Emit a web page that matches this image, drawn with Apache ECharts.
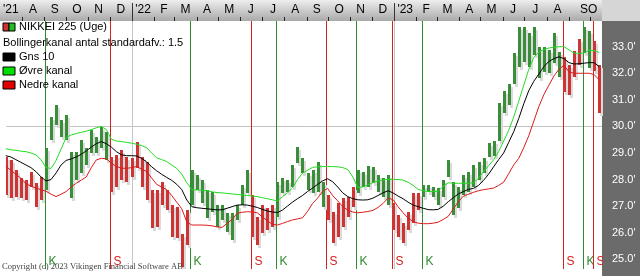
<!DOCTYPE html>
<html><head><meta charset="utf-8">
<script src="https://cdn.jsdelivr.net/npm/echarts@6/dist/echarts.min.js"></script>
<style>html,body{margin:0;padding:0;background:#fff}#c{width:640px;height:276px}</style>
</head><body><div id="c"></div>
<script>
// ---- data (values in thousands) ----
const firstBarDate = '2021-07-09';
const highs = [
28.86,28.74,28.36,28.06,27.99,28.30,27.86,28.11,29.18,30.37,
30.81,30.24,30.43,29.05,29.05,29.49,29.19,29.87,29.62,29.99,
29.80,28.86,28.93,29.11,28.86,28.81,29.43,28.86,28.67,27.61,
27.61,27.92,27.61,27.04,26.98,25.95,26.85,28.36,28.17,27.98,
27.61,27.55,27.04,27.04,26.74,26.74,27.04,27.80,28.36,27.42,
26.60,27.04,26.93,27.04,27.92,28.06,27.98,28.55,29.24,28.80,
28.24,28.36,28.67,27.92,27.42,26.79,27.11,27.30,27.36,27.73,
28.36,28.30,28.51,28.49,28.17,28.05,28.17,27.11,26.67,26.36,
26.79,27.48,27.48,27.80,27.80,27.73,27.67,27.98,28.74,27.92,
27.73,28.17,28.30,28.55,28.67,28.80,29.37,29.45,30.90,31.35,
31.60,32.75,33.75,33.74,33.52,33.74,33.00,33.00,32.88,33.50,
32.80,32.60,32.30,32.85,33.30,33.75,33.60,33.20,32.30];
const lows = [
27.42,27.31,27.36,27.31,27.23,27.73,26.98,27.23,27.61,29.49,
30.06,29.61,29.49,27.30,27.98,28.24,28.55,28.99,28.99,29.18,
28.74,27.55,27.73,27.98,27.92,28.11,28.43,27.73,27.23,26.17,
26.23,27.04,26.86,25.85,25.79,24.72,25.55,27.04,27.61,27.11,
26.55,26.79,26.23,26.48,26.04,25.73,26.48,27.04,27.50,25.85,
25.54,25.98,26.10,26.23,26.60,27.50,27.55,27.73,28.61,28.24,
27.61,27.48,27.55,26.98,26.48,25.60,25.85,26.23,26.60,26.98,
27.48,27.73,27.73,27.86,27.55,27.36,27.04,26.10,25.85,25.60,
26.10,26.36,26.86,27.36,27.55,27.36,27.04,27.36,28.11,26.67,
26.92,27.42,27.55,27.73,27.98,28.24,28.85,28.90,29.45,30.50,
30.80,31.60,32.25,32.43,32.24,32.69,31.82,32.05,32.00,32.37,
31.86,31.30,31.20,31.86,32.30,32.78,32.20,32.10,30.50];
const gns10 = [
28.90,28.85,28.75,28.65,28.55,28.45,28.30,28.10,27.95,28.00,
28.25,28.55,28.72,28.78,28.85,28.95,29.08,29.22,29.35,29.43,
29.35,29.22,29.05,28.93,28.90,28.90,28.89,28.80,28.67,28.48,
28.33,28.20,28.08,27.97,27.82,27.62,27.23,26.98,26.94,26.92,
26.90,26.88,26.86,26.86,26.92,26.98,27.04,27.05,27.04,27.00,
26.95,26.88,26.82,26.78,26.76,26.85,27.00,27.15,27.28,27.40,
27.55,27.68,27.82,27.95,28.03,27.92,27.72,27.50,27.36,27.28,
27.24,27.23,27.24,27.30,27.40,27.50,27.58,27.50,27.38,27.28,
27.15,27.04,26.98,26.92,26.87,26.86,26.88,27.00,27.17,27.32,
27.46,27.55,27.63,27.67,27.78,27.97,28.20,28.48,28.75,29.00,
29.40,29.80,30.30,30.85,31.35,31.70,31.97,32.25,32.45,32.55,
32.62,32.55,32.40,32.35,32.36,32.38,32.40,32.40,32.25];
const upperBand = [
29.16,29.12,29.10,29.07,29.05,29.00,28.93,28.75,28.45,28.42,
28.72,29.15,29.58,29.68,29.73,29.78,29.82,29.88,29.95,30.00,
29.88,29.52,29.45,29.43,29.40,29.37,29.33,29.28,29.20,29.00,
28.82,28.75,28.68,28.55,28.42,28.20,27.88,27.62,27.61,27.60,
27.58,27.54,27.51,27.50,27.48,27.46,27.44,27.42,27.40,27.38,
27.36,27.32,27.28,27.24,27.20,27.35,27.50,27.68,28.00,28.24,
28.35,28.46,28.48,28.49,28.49,28.49,28.48,28.45,28.38,28.10,
27.70,27.72,27.80,27.88,27.95,27.98,28.01,28.01,28.00,27.98,
27.90,27.78,27.63,27.58,27.55,27.55,27.56,27.75,27.88,27.86,
27.86,27.86,27.86,27.88,28.05,28.30,28.52,28.74,29.05,29.45,
29.85,30.35,30.95,31.55,32.15,32.60,32.80,32.90,32.95,32.98,
33.00,33.00,32.88,32.76,32.75,32.76,32.87,32.85,32.78];
const lowerBand = [
28.50,28.35,28.20,28.05,27.85,27.75,27.68,27.62,27.56,27.45,
27.36,27.45,27.55,27.72,27.86,27.98,28.10,28.45,28.74,28.80,
28.78,28.62,28.49,28.43,28.42,28.45,28.49,28.40,28.30,28.06,
27.82,27.72,27.62,27.40,27.15,26.90,26.40,26.29,26.29,26.29,
26.28,26.26,26.22,26.20,26.35,26.50,26.73,26.77,26.79,26.78,
26.75,26.60,26.45,26.32,26.29,26.35,26.42,26.48,26.52,26.56,
26.80,27.10,27.30,27.55,27.67,27.40,27.20,26.98,26.85,26.78,
26.75,26.77,26.80,26.84,26.95,27.10,27.30,27.25,26.98,26.75,
26.55,26.42,26.36,26.34,26.34,26.36,26.40,26.50,26.62,26.90,
27.17,27.38,27.45,27.52,27.58,27.62,27.65,27.68,27.78,27.90,
28.22,28.55,28.80,29.20,29.65,30.20,30.75,31.20,31.55,31.90,
32.15,32.30,32.05,32.00,32.00,32.00,32.00,31.95,31.75];
// signals: bar index where the signal starts, and its type (K = buy, S = sell)
const signalBars  = [8,  21,  37,  49,  54,  64,  70,  77,  83,  111, 115, 117];
const signalTypes = ['K','S','K','S','K','S','K','S','K','S','K','S'];
// axis
const monthLabels = ["'21",'A','S','O','N','D',"'22",'F','M','A','M','J','J','A','S','O','N','D',"'23",'F','M','A','M','J','J','A','S','O'];
const monthLabelDates = ['2021-07-16','2021-08-16','2021-09-15','2021-10-16','2021-11-15','2021-12-16',
 '2022-01-16','2022-02-14','2022-03-16','2022-04-15','2022-05-16','2022-06-15','2022-07-16','2022-08-16','2022-09-15','2022-10-16','2022-11-15','2022-12-16',
 '2023-01-16','2023-02-14','2023-03-16','2023-04-15','2023-05-16','2023-06-15','2023-07-16','2023-08-16','2023-09-22','2023-10-04'];
const monthTickDates = ['2021-08-01','2021-09-01','2021-10-01','2021-11-01','2021-12-01','2022-01-01','2022-02-01','2022-03-01','2022-04-01','2022-05-01','2022-06-01','2022-07-01','2022-08-01','2022-09-01','2022-10-01','2022-11-01','2022-12-01','2023-01-01','2023-02-01','2023-03-01','2023-04-01','2023-05-01','2023-06-01','2023-07-01','2023-08-01','2023-09-01','2023-10-01'];
const yearDates = ['2022-01-01','2023-01-01'];
const yTicks = [25,26,27,28,29,30,31,32,33];
const gridY = [30];
const legendTexts = ['NIKKEI 225 (Uge)','Bollingerkanal antal standardafv.: 1.5','Gns 10','Øvre kanal','Nedre kanal'];
const copyrightText = 'Copyright (c) 2023 Vikingen Financial Software AB';

// ---- helpers ----
const D0 = Date.UTC(2022,0,1);
const dayOf = s => { const p = s.split('-').map(Number); return (Date.UTC(p[0],p[1]-1,p[2]) - D0)/864e5; };
const firstDay = dayOf(firstBarDate);
const barDays = highs.map((_, i) => firstDay + 7*i);
let state = 0; // 0 = sell (red), 1 = buy (green)
const barData = highs.map((h, i) => {
  const si = signalBars.indexOf(i);
  if (si >= 0) state = signalTypes[si] === 'K' ? 1 : 0;
  return [barDays[i], h, lows[i], state];
});
const lineData = arr => arr.map((v, i) => [barDays[i], v]);
const signalData = signalBars.map((b, i) => [barDays[b] - 2, signalTypes[i] === 'K' ? 1 : 0]);
const labelDays = monthLabelDates.map(dayOf);
const labelMap = {}; labelDays.forEach((d, i) => labelMap[d] = monthLabels[i]);

const GREEN = '#3a8e3a', RED = '#cf3434', SHADOW = '#dadada';
const FONT = "'Liberation Sans', Arial, sans-serif";

const chart = echarts.init(document.getElementById('c'), null, {renderer: 'canvas'});
const XMIN = -175.3, XMAX = 653.9;

function renderBar(params, api) {
  const a = api.coord([api.value(0), api.value(1)]);
  const b = api.coord([api.value(0), api.value(2)]);
  const left = Math.round(a[0]) - 1;
  const top = Math.round(a[1]);
  const h = Math.max(1, Math.round(b[1]) - top);
  return {type: 'group', children: [
    {type: 'rect', shape: {x: left + 2, y: top + 3, width: 3, height: h}, style: {fill: SHADOW}},
    {type: 'rect', shape: {x: left, y: top, width: 3, height: h}, style: {fill: api.value(3) ? GREEN : RED}}
  ]};
}
function renderSignal(params, api) {
  const cs = params.coordSys;
  const x = Math.round(api.coord([api.value(0), 30])[0]) + 0.5;
  const buy = api.value(1) === 1;
  const col = buy ? '#2e8b2e' : '#d42020';
  return {type: 'group', children: [
    {type: 'line', shape: {x1: x, y1: cs.y, x2: x, y2: cs.y + cs.height}, style: {stroke: col, lineWidth: 1}},
    {type: 'text', x: x + 3, y: cs.y + cs.height - 1, style: {text: buy ? 'K' : 'S', fill: col, font: '12px ' + FONT, verticalAlign: 'bottom', align: 'left'}}
  ]};
}
function renderGrid(params, api) {
  const cs = params.coordSys;
  const kind = api.value(1);
  if (kind === 0) {
    const x = Math.round(api.coord([api.value(0), 30])[0]) + 0.5;
    return {type: 'line', shape: {x1: x, y1: cs.y, x2: x, y2: cs.y + cs.height}, style: {stroke: '#c4c4c4', lineWidth: 1}};
  }
  const y = Math.round(api.coord([0, api.value(0)])[1]) + 0.5;
  return {type: 'line', shape: {x1: cs.x, y1: y, x2: cs.x + cs.width, y2: y}, style: {stroke: '#c4c4c4', lineWidth: 1}};
}
const gridData = yearDates.map(d => [dayOf(d), 0]).concat(gridY.map(v => [v, 1]));

const legendIcon = (y, fills) => fills.map((f, i) => ({
  type: 'rect', shape: {x: 3 + i * (12 / fills.length), y: y - 4, width: 12 / fills.length, height: 8},
  style: {fill: f, stroke: '#000', lineWidth: 1}, z: 100
}));
const legendRows = [27, 43, 57, 71, 85];
const graphics = [
  {type: 'rect', shape: {x: 0, y: 0, width: 602, height: 21}, z: -10,
   style: {fill: new echarts.graphic.LinearGradient(0, 0, 0, 1, [{offset: 0, color: '#eeeeee'}, {offset: 1, color: '#a9a9a9'}])}},
  {type: 'rect', shape: {x: 602, y: 0, width: 38, height: 21}, z: -10, style: {fill: '#d6d6d6'}},
  {type: 'rect', shape: {x: 602, y: 21, width: 38, height: 255}, z: -10, style: {fill: '#6b6b6b'}},
  ...legendIcon(legendRows[0], [RED, '#1fc01f']),
  ...legendIcon(legendRows[2], ['#000000']),
  ...legendIcon(legendRows[3], ['#00e000']),
  ...legendIcon(legendRows[4], ['#e00000']),
  ...legendTexts.map((t, i) => ({type: 'text', x: i === 1 ? 3 : 19, y: legendRows[i], z: 100,
    style: {text: t, fill: '#000', font: '11px ' + FONT, verticalAlign: 'middle'}})),
  {type: 'text', x: 2, y: 271, z: 100, style: {text: copyrightText, fill: '#444', font: '8.6px "Liberation Serif", serif', verticalAlign: 'bottom'}}
];

const option = {
  animation: false,
  backgroundColor: '#ffffff',
  grid: {left: 0, right: 38, top: 21, bottom: 7, containLabel: false},
  xAxis: [
    {type: 'value', min: XMIN, max: XMAX, position: 'top',
     axisLine: {show: false}, splitLine: {show: false},
     axisTick: {show: true, customValues: monthTickDates.map(dayOf), length: 4, lineStyle: {color: '#222'}},
     axisLabel: {show: true, customValues: labelDays, formatter: v => labelMap[v] || '', color: '#000', fontSize: 12, fontFamily: FONT, margin: 5}},
    {type: 'value', min: XMIN, max: XMAX, position: 'top',
     axisLine: {show: false}, splitLine: {show: false}, axisLabel: {show: false},
     axisTick: {show: true, customValues: yearDates.map(dayOf), length: 18, lineStyle: {color: '#333'}}}
  ],
  yAxis: {type: 'value', position: 'right', min: 24.635, max: 33.967, scale: true,
    axisLine: {show: false}, splitLine: {show: false},
    axisTick: {show: true, customValues: yTicks, length: 5, lineStyle: {color: '#fff'}},
    axisLabel: {show: true, customValues: yTicks, color: '#fff', fontSize: 11, fontFamily: FONT, margin: 10,
      formatter: v => v.toFixed(1) + "'"}},
  graphic: graphics,
  series: [
    {type: 'custom', name: 'grid', renderItem: renderGrid, data: gridData, z: 1, silent: true, clip: true},
    {type: 'custom', name: 'signals', renderItem: renderSignal, data: signalData, z: 2, silent: true, clip: true},
    {type: 'custom', name: 'NIKKEI 225 (Uge)', renderItem: renderBar, data: barData, z: 3, silent: true, clip: true,
     encode: {x: 0, y: [1, 2]}},
    {type: 'line', name: 'Øvre kanal', data: lineData(upperBand), symbol: 'none', z: 4, silent: true,
     lineStyle: {color: '#22dd22', width: 1}},
    {type: 'line', name: 'Nedre kanal', data: lineData(lowerBand), symbol: 'none', z: 4, silent: true,
     lineStyle: {color: '#dd1a1a', width: 1}},
    {type: 'line', name: 'Gns 10', data: lineData(gns10), symbol: 'none', z: 5, silent: true,
     lineStyle: {color: '#000', width: 1}}
  ]
};
chart.setOption(option);
</script></body></html>
